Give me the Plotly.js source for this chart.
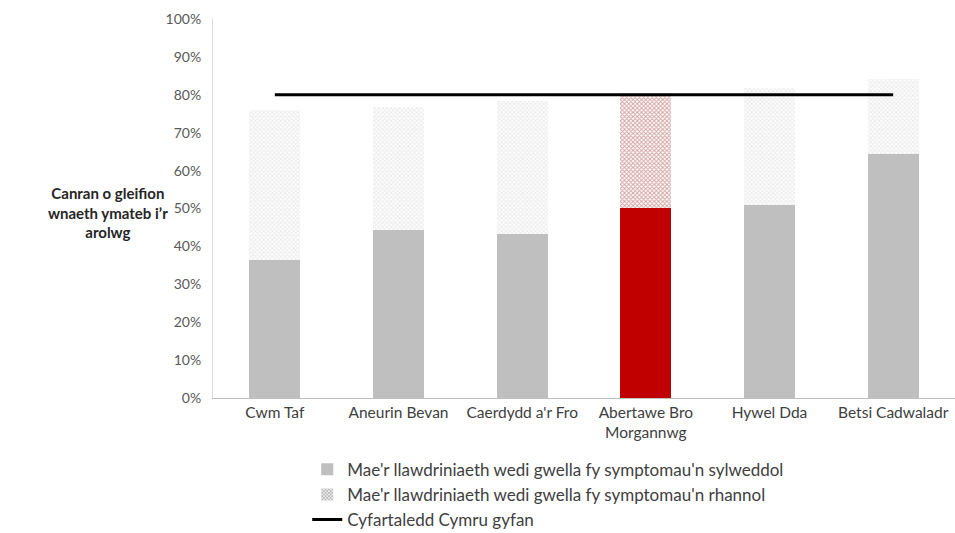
<!DOCTYPE html>
<html><head><meta charset="utf-8">
<script src="https://cdn.plot.ly/plotly-3.0.1.min.js"></script>
<style>body{margin:0;background:#fff}#c{width:955px;height:533px}</style>
</head><body><div id="c"></div>
<script>
const categories = ["Cwm Taf","Aneurin Bevan","Caerdydd a'r Fro","Abertawe Bro<br>Morgannwg","Hywel Dda","Betsi Cadwaladr"];
const significant = [36.4, 44.3, 43.3, 50.1, 50.9, 64.4];
const partial = [39.6, 32.5, 35.1, 30.4, 30.9, 19.8];
const walesAverage = [80, 80, 80, 80, 80, 80];
const tickValues = [0,10,20,30,40,50,60,70,80,90,100];
const tickLabels = ["0%","10%","20%","30%","40%","50%","60%","70%","80%","90%","100%"];
const seriesNames = ["Mae'r llawdriniaeth wedi gwella fy symptomau'n sylweddol","Mae'r llawdriniaeth wedi gwella fy symptomau'n rhannol","Cyfartaledd Cymru gyfan"];
const highlight = 3;

const solidColors = categories.map((c,i)=> i===highlight ? '#c00000' : '#bfbfbf');
const patColors = categories.map((c,i)=> i===highlight ? '#980808' : '#b4b4b4');
const patBg = categories.map((c,i)=> i===highlight ? '#d4a4a4' : '#ececec');

const font = "Lato, 'Open Sans', sans-serif";
const traces = [
  {type:'bar', x:categories, y:significant, name:seriesNames[0], width:0.41,
   marker:{color:solidColors, line:{width:0}}},
  {type:'bar', x:categories, y:partial, name:seriesNames[1], width:0.41,
   marker:{color:patBg, line:{width:0}, pattern:{shape:'x', size:3, solidity:0.55, fgcolor:patColors, bgcolor:patBg, fillmode:'replace'}}},
  {type:'scatter', mode:'lines', x:categories, y:walesAverage, name:seriesNames[2],
   line:{color:'#000000', width:3}}
];
const layout = {
  width:955, height:533, barmode:'stack', showlegend:true,
  paper_bgcolor:'#fff', plot_bgcolor:'#fff',
  margin:{l:213, r:0, t:19, b:135, autoexpand:false},
  font:{family:font, size:13, color:'#404040'},
  xaxis:{type:'category', showline:true, linecolor:'#bfbfbf', linewidth:1, ticks:'', tickfont:{size:15.5, color:'#404040'}, showgrid:false, automargin:false},
  yaxis:{range:[0,100], tickvals:tickValues, ticktext:tickLabels, showgrid:false, showline:true, linecolor:'#d9d9d9', ticks:'', ticklen:0, ticklabelstandoff:8, tickfont:{size:14, color:'#595959'}, zeroline:false, automargin:false},
  legend:{orientation:'v', x:0.127, xanchor:'left', y:-0.142, yanchor:'top', font:{size:17, color:'#404040'}, tracegroupgap:0, itemwidth:30, traceorder:'normal'},
  annotations:[{xref:'paper', yref:'paper', x:-0.142, y:0.49, xanchor:'center', yanchor:'middle', showarrow:false, align:'center',
    text:"<b>Canran o gleifion<br>wnaeth ymateb i’r<br>arolwg</b>", font:{size:15, color:'#262626'}}]
};
Plotly.newPlot('c', traces, layout, {displayModeBar:false, staticPlot:true});
</script></body></html>
